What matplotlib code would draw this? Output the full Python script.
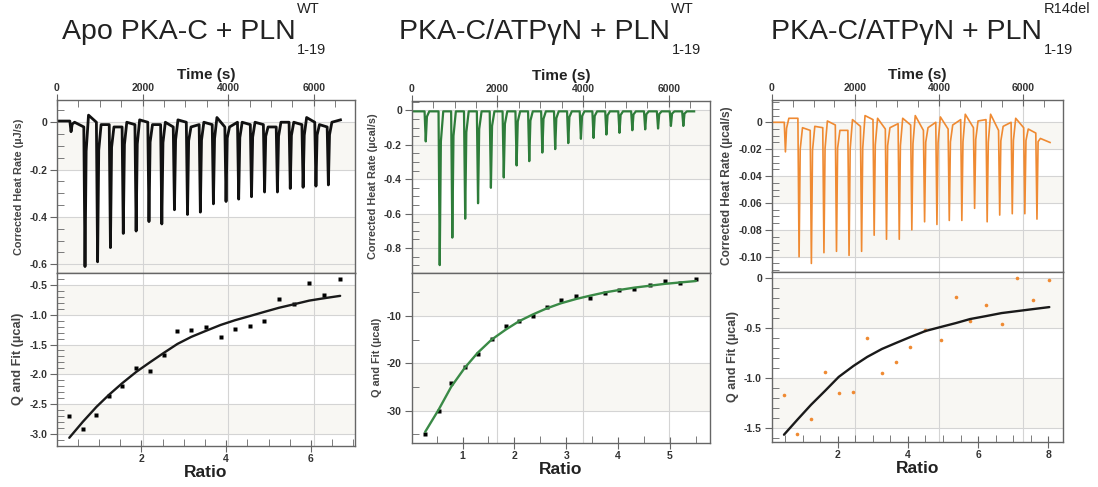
import matplotlib.pyplot as plt
from matplotlib.ticker import MultipleLocator, FuncFormatter
from matplotlib.transforms import blended_transform_factory

plt.rcParams['font.family'] = ['Liberation Sans', 'DejaVu Sans']

# injection times (s), same schedule for the three runs
inj_times = [310, 636, 930, 1230, 1530, 1830, 2130, 2430, 2725, 3030, 3330,
             3635, 3930, 4225, 4525, 4830, 5130, 5430, 5730, 6030, 6320]

# --- Apo PKA-C + PLN WT
apo_depths = [-0.04, -0.61, -0.59, -0.53, -0.47, -0.46, -0.42, -0.43, -0.37, -0.39, -0.38,
              -0.345, -0.335, -0.325, -0.315, -0.295, -0.295, -0.28, -0.275, -0.27, -0.265]
# baseline level just before each injection (+ end of run) and just after each peak
apo_base = [0.005, -0.02, 0.0, -0.01, -0.02, -0.01, 0.0, -0.01, -0.02, 0.0, -0.01,
            -0.01, -0.02, 0.0, -0.01, -0.01, -0.02, 0.0, -0.01, 0.0, -0.02, 0.01]
apo_after = [0.0, 0.03, -0.01, -0.02, 0.0, 0.01, -0.01, 0.0, 0.01, -0.02, 0.0,
             0.02, -0.02, 0.0, 0.0, -0.02, 0.0, 0.0, 0.02, -0.01, 0.0]
apo_ratio = [0.30, 0.62, 0.94, 1.23, 1.55, 1.88, 2.20, 2.53, 2.85, 3.18,
             3.52, 3.87, 4.21, 4.56, 4.90, 5.25, 5.61, 5.96, 6.31, 6.69]
apo_q = [-2.70, -2.93, -2.68, -2.37, -2.19, -1.89, -1.95, -1.68, -1.28, -1.26,
         -1.20, -1.38, -1.23, -1.18, -1.10, -0.74, -0.82, -0.46, -0.66, -0.40]
apo_fit = [-3.07, -2.80, -2.55, -2.35, -2.15, -1.96, -1.80, -1.64, -1.49, -1.37,
           -1.27, -1.17, -1.09, -1.02, -0.95, -0.88, -0.82, -0.76, -0.72, -0.68]

# --- PKA-C/ATPgN + PLN WT
wt_depths = [-0.18, -0.90, -0.74, -0.63, -0.54, -0.45, -0.39, -0.32, -0.295, -0.245, -0.225,
             -0.19, -0.165, -0.16, -0.14, -0.13, -0.115, -0.11, -0.105, -0.09, -0.09]
wt_base = [-0.005] * 22
wt_after = [-0.005] * 21
wt_ratio = [0.28, 0.54, 0.78, 1.04, 1.29, 1.56, 1.83, 2.09, 2.35, 2.62,
            2.90, 3.19, 3.46, 3.75, 4.02, 4.31, 4.61, 4.90, 5.20, 5.50]
wt_q = [-35.0, -30.0, -24.1, -20.7, -18.0, -14.9, -12.1, -11.1, -9.9, -8.0,
        -6.7, -5.8, -6.1, -5.1, -4.5, -4.2, -3.4, -2.7, -3.0, -2.2]
wt_fit = [-34.5, -29.8, -25.0, -21.0, -17.8, -15.0, -12.9, -11.1, -9.7, -8.4,
          -7.3, -6.4, -5.7, -5.0, -4.5, -4.0, -3.6, -3.2, -2.9, -2.6]

# --- PKA-C/ATPgN + PLN R14del
r14_depths = [-0.022, -0.100, -0.105, -0.097, -0.096, -0.099, -0.096, -0.084, -0.087, -0.087, -0.080,
              -0.074, -0.076, -0.073, -0.073, -0.064, -0.074, -0.069, -0.068, -0.068, -0.072]
r14_base = [0.0, 0.003, -0.006, -0.004, -0.002, -0.006, -0.003, 0.002, -0.005, -0.001, -0.002,
            -0.006, 0.0, -0.005, 0.002, -0.004, 0.002, -0.006, 0.0, -0.004, -0.008, -0.015]
r14_after = [0.003, -0.004, -0.003, 0.001, -0.006, 0.002, 0.005, 0.003, -0.004, 0.003, 0.005,
             -0.004, 0.004, -0.002, 0.006, 0.001, 0.006, -0.003, 0.003, -0.005, -0.012]
r14_ratio = [0.47, 0.85, 1.24, 1.64, 2.03, 2.45, 2.84, 3.26, 3.66, 4.07,
             4.50, 4.93, 5.37, 5.77, 6.23, 6.67, 7.12, 7.57, 8.03]
r14_q = [-1.17, -1.56, -1.41, -0.94, -1.15, -1.14, -0.60, -0.95, -0.84, -0.69,
         -0.52, -0.62, -0.19, -0.43, -0.27, -0.46, 0.00, -0.22, -0.02]
r14_fit = [-1.57, -1.42, -1.27, -1.13, -0.99, -0.88, -0.79, -0.71, -0.65, -0.59,
           -0.53, -0.49, -0.45, -0.41, -0.38, -0.35, -0.33, -0.31, -0.29]

W, H = 1098, 487
fig = plt.figure(figsize=(W / 100, H / 100), dpi=100)

TICK = '#333333'
FRAME = '#666666'
GRID = '#d4d4d4'
BAND = '#f8f7f3'


def thermogram(times, depths, base, after, t_end):
    xs, ys = [40], [base[0]]
    for i, (t, d) in enumerate(zip(times, depths)):
        xs += [t - 10, t + 18, t + 45, t + 100]
        ys += [base[i], d, d * 0.2, after[i]]
    xs.append(t_end)
    ys.append(base[-1])
    return xs, ys


def zero_fmt(fmt):
    return FuncFormatter(lambda v, p: '0' if abs(v) < 1e-9 else fmt % v)


def style(ax, ymajor, yminor, fmt, bands):
    for s in ax.spines.values():
        s.set_color(FRAME)
        s.set_linewidth(1.0)
    ax.yaxis.set_major_locator(MultipleLocator(ymajor))
    ax.yaxis.set_minor_locator(MultipleLocator(yminor))
    ax.yaxis.set_major_formatter(zero_fmt(fmt))
    ax.tick_params(axis='y', which='major', direction='out', length=5, color=FRAME,
                   labelsize=7.5, labelcolor=TICK, pad=2)
    ax.tick_params(axis='y', which='minor', direction='in', length=5, color=FRAME)
    for lab in ax.get_yticklabels():
        lab.set_fontweight('bold')
    ax.grid(axis='y', which='major', color=GRID, lw=0.8)
    for y0, y1 in bands:
        ax.axhspan(y0, y1, color=BAND, zorder=0, lw=0)
    ax.set_axisbelow(True)


def panel(px, title, color, trace, ylab_top, ylims_top, yt, ratio, q, fit, fit_color,
          marker, ylims_bot, yb, rlim, rmajor, bands_top, bands_bot, lw_trace, lab_sizes):
    left, right, top, mid, bottom = px
    ax_t = fig.add_axes([left / W, 1 - mid / H, (right - left) / W, (mid - top) / H])
    ax_b = fig.add_axes([left / W, 1 - bottom / H, (right - left) / W, (bottom - mid) / H])

    # thermogram
    ax_t.plot(trace[0], trace[1], color=color, lw=lw_trace, solid_joinstyle='round')
    ax_t.set_xlim(0, 6960)
    ax_t.set_ylim(*ylims_top)
    style(ax_t, yt[0], yt[1], yt[2], bands_top)
    ax_t.xaxis.tick_top()
    ax_t.xaxis.set_label_position('top')
    ax_t.xaxis.set_major_locator(MultipleLocator(2000))
    ax_t.xaxis.set_minor_locator(MultipleLocator(500))
    ax_t.tick_params(axis='x', which='major', direction='inout', length=8, color=FRAME,
                     labelsize=7.5, labelcolor=TICK, pad=1)
    ax_t.tick_params(axis='x', which='minor', direction='in', length=5, color=FRAME)
    for lab in ax_t.get_xticklabels():
        lab.set_fontweight('bold')
    ax_t.grid(axis='x', which='major', color=GRID, lw=0.8)
    ax_t.set_xlabel('Time (s)', fontsize=11, fontweight='bold', color='#222222', labelpad=3)
    ax_t.set_ylabel(ylab_top, fontsize=lab_sizes[0], fontweight='bold', color='#444444', labelpad=4)

    # integrated heats + fit
    ax_b.plot(ratio, q, linestyle='None', marker=marker, ms=2.6,
              color='black' if marker == 's' else color, mec='none')
    ax_b.plot(ratio, fit, color=fit_color, lw=1.7, solid_capstyle='round')
    ax_b.set_xlim(*rlim)
    ax_b.set_ylim(*ylims_bot)
    style(ax_b, yb[0], yb[1], yb[2], bands_bot)
    ax_b.xaxis.set_major_locator(MultipleLocator(rmajor))
    ax_b.xaxis.set_minor_locator(MultipleLocator(0.5))
    ax_b.tick_params(axis='x', which='major', direction='inout', length=8, color=FRAME,
                     labelsize=7.5, labelcolor=TICK, pad=2)
    ax_b.tick_params(axis='x', which='minor', direction='in', length=5, color=FRAME)
    for lab in ax_b.get_xticklabels():
        lab.set_fontweight('bold')
    # time grid continues through the lower panel
    tr = blended_transform_factory(ax_t.transData, ax_b.transAxes)
    for t in (2000, 4000, 6000):
        ax_b.plot([t, t], [0, 1], transform=tr, color=GRID, lw=0.8, zorder=0.5)
    ax_b.set_xlabel('Ratio', fontsize=12.5, fontweight='bold', color='#222222', labelpad=1)
    ax_b.set_ylabel('Q and Fit (µcal)', fontsize=lab_sizes[1], fontweight='bold',
                    color='#444444', labelpad=4)
    fig.align_ylabels([ax_t, ax_b])

    # title with stacked super/subscript
    (tx, ty), main, sup, sub = title
    tt = fig.text(tx / W, 1 - ty / H, main, fontsize=20.5, color='#222222',
                  ha='left', va='baseline')
    fig.add_artist(plt.Annotation(sup, xy=(1.0, 1.0), xycoords=tt, xytext=(1, 2.5),
                                  textcoords='offset points', ha='left', va='bottom',
                                  color='#222222', fontsize=10.5))
    fig.add_artist(plt.Annotation(sub, xy=(1.0, 0.0), xycoords=tt, xytext=(1, 1.5),
                                  textcoords='offset points', ha='left', va='top',
                                  color='#222222', fontsize=10.5))


panel((57, 355, 100, 272.7, 445.5), ((62, 39), 'Apo PKA-C + PLN', 'WT', '1-19'), '#111111',
      thermogram(inj_times, apo_depths, apo_base, apo_after, 6620), 'Corrected Heat Rate (µJ/s)',
      (-0.636, 0.094), (0.2, 0.05, '%.1f'), apo_ratio, apo_q, apo_fit, '#1a1a1a', 's',
      (-3.2, -0.29), (0.5, 0.1, '%.1f'), (0.01, 7.04), 2,
      [(-0.2, 0.0), (-0.636, -0.4)], [(-1.0, -0.5), (-2.0, -1.5), (-3.0, -2.5)], 2.0, (7.8, 9.2))

panel((411.7, 710, 100.7, 272.5, 442.7), ((399, 39), 'PKA-C/ATPγN + PLN', 'WT', '1-19'), '#2e7d3a',
      thermogram(inj_times, wt_depths, wt_base, wt_after, 6590), 'Corrected Heat Rate (µcal/s)',
      (-0.943, 0.057), (0.2, 0.05, '%.1f'), wt_ratio, wt_q, wt_fit, '#3a8a46', 's',
      (-36.8, -0.8), (10, 5, '%d'), (0.02, 5.77), 1,
      [(-0.4, 0.0), (-0.943, -0.6)], [(-10, -0.8), (-30, -20)], 1.6, (7.8, 7.8))

panel((771.7, 1063, 100, 271.5, 441.7), ((771, 39), 'PKA-C/ATPγN + PLN', 'R14del', '1-19'), '#ef8a32',
      thermogram(inj_times, r14_depths, r14_base, r14_after, 6650), 'Corrected Heat Rate (µcal/s)',
      (-0.111, 0.0166), (0.02, 0.005, '%.2f'), r14_ratio, r14_q, r14_fit, '#1a1a1a', 'o',
      (-1.64, 0.067), (0.5, 0.1, '%.1f'), (0.12, 8.42), 2,
      [(-0.02, 0.0), (-0.06, -0.04), (-0.1, -0.08)], [(-0.5, 0.0), (-1.5, -1.0)], 1.2, (8.6, 9.0))

fig.savefig('out.png', dpi=100)
